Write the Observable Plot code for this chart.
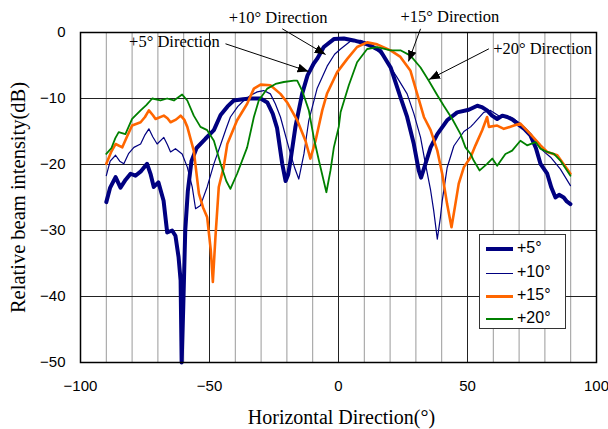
<!DOCTYPE html>
<html><head><meta charset="utf-8">
<script src="https://cdn.jsdelivr.net/npm/d3@7"></script>
<script src="https://cdn.jsdelivr.net/npm/@observablehq/plot@0.6"></script>
<style>
body{margin:0;background:#fff;}
#wrap{position:relative;width:608px;height:429px;overflow:hidden;}
#wrap svg{position:absolute;left:0;top:0;}
#legend{position:absolute;left:479px;top:234px;width:85px;height:93px;border:1px solid #333;background:#fff;font-family:"Liberation Sans",Arial,sans-serif;font-size:16px;color:#000;z-index:2;}
.sw{position:absolute;left:6px;width:27px;}
.lab{position:absolute;left:37px;line-height:20px;}
</style></head>
<body><div id="wrap"><div id="legend"></div></div>
<script>
// ---- axis ticks / grid ----
const xTicks = [-100, -50, 0, 50, 100];
const yTicks = [0, -10, -20, -30, -40, -50];
const xMinorGrid = [-90, -80, -70, -60, -40, -30, -20, -10, 10, 20, 30, 40, 60, 70, 80, 90];
const xMajorGrid = [-50, 0, 50];
const yGrid = [-10, -20, -30, -40];

// ---- series ----
const seriesNames = ["+5°", "+10°", "+15°", "+20°"];
const seriesColors = ["#000080", "#000080", "#FF6600", "#008000"];

const s5 = [[-90,-25.7],[-88.5,-23.5],[-86.4,-21.9],[-84.5,-23.5],[-82.5,-22.3],[-80.6,-21.4],[-78.7,-21.7],[-76.5,-21],[-74.2,-19.9],[-72.8,-21.5],[-71.6,-23.4],[-69.8,-22.7],[-67.8,-25.5],[-66.4,-30.3],[-64.5,-30],[-63.2,-30.8],[-62,-34],[-61.2,-37.6],[-60.8,-50],[-60.2,-42],[-59.4,-30],[-58.4,-24],[-57,-19.5],[-55,-17.5],[-51.6,-16.1],[-48.3,-14.8],[-45.7,-12.5],[-43,-11.2],[-40.6,-10.3],[-37,-10.1],[-34.1,-10],[-30.2,-10],[-27.6,-10.6],[-25.5,-12.3],[-23.8,-14.5],[-21.8,-19.9],[-20.5,-22.5],[-19.5,-21.5],[-18.6,-19.4],[-16.7,-14.3],[-14.1,-9.3],[-12,-6.5],[-9.6,-4.7],[-8.3,-4.0],[-5.7,-2.2],[-1.8,-1.0],[2.1,-0.9],[5.9,-1.2],[9.8,-1.6],[12.4,-2],[16.3,-2.8],[20.2,-5.3],[24,-9.8],[26.6,-12.8],[29.2,-16.9],[31.1,-20.9],[32,-22],[33.7,-19.9],[35.7,-17.4],[38.3,-15.4],[42.1,-13.3],[46,-12.1],[50.5,-11.7],[53.8,-11.1],[55.5,-11.3],[57.6,-11.8],[59.5,-12.6],[61.5,-13.1],[63.5,-12.6],[65.4,-12.8],[67.5,-13.2],[69.3,-13.8],[72,-14.6],[74.4,-15.6],[76.5,-17.5],[78.3,-19.9],[80.9,-21.4],[82.5,-23.5],[84.1,-25],[85.5,-24.6],[87.3,-25],[88.5,-25.6],[89.9,-26]];

const s10 = [[-90,-21.7],[-88.5,-19.5],[-86.4,-18.6],[-84.8,-19.5],[-83.2,-19.9],[-81.3,-18.3],[-79.3,-17.4],[-76.7,-16.9],[-75,-15.5],[-73.5,-14.6],[-72,-15.8],[-70.3,-16.9],[-67.7,-15.9],[-66.3,-17],[-65.1,-18.1],[-63.2,-17.6],[-60.6,-18.4],[-58.6,-20.4],[-56.7,-23.4],[-55.4,-26.7],[-53.5,-26.2],[-50.9,-23.4],[-48.3,-19.9],[-45.7,-17],[-43.5,-14.5],[-41.9,-12.8],[-39,-11.2],[-36.7,-10.3],[-34,-9.5],[-31.5,-9],[-29,-8.8],[-26.4,-9.3],[-24.5,-10.8],[-22.5,-12.8],[-19.3,-17.4],[-17,-20.5],[-15.4,-22.2],[-13.4,-18.4],[-11.5,-13.3],[-8.3,-8.5],[-4.4,-5.1],[-1.5,-3.3],[0.8,-2.5],[4.7,-1.3],[8.5,-1.2],[12.4,-1.7],[17.6,-3.7],[22.7,-6.8],[26.6,-9.3],[29.2,-12.3],[31.8,-15.9],[33.7,-19.9],[35.7,-23.9],[36.9,-27],[38.3,-31.3],[39.5,-28],[40.2,-25.5],[42.1,-20.5],[44.7,-17.2],[48.6,-15],[51.2,-14.3],[52.4,-13.8],[56.3,-12.1],[58.9,-11.8],[62.8,-12.8],[66.7,-12.8],[70.5,-13.8],[74.4,-15.4],[78.3,-17.6],[82.2,-18.9],[86,-20.7],[89.9,-23.2]];

const s15 = [[-90,-19.9],[-88,-18],[-86.4,-16.9],[-83.8,-17.4],[-82,-15.8],[-80,-14.1],[-76.7,-13.6],[-75,-12.8],[-73.5,-11.8],[-72,-12.5],[-70.9,-13.1],[-67.7,-12.6],[-66.3,-13],[-65.1,-13.6],[-63,-13.2],[-61.2,-12.6],[-59.8,-13.2],[-58.6,-14.3],[-56.1,-17.9],[-54.1,-24.4],[-52.5,-26.5],[-50.9,-28],[-49.5,-33],[-48.7,-37.8],[-47.7,-31],[-46.4,-23.4],[-44.5,-20.4],[-43.1,-16.9],[-39.3,-13.3],[-35.4,-10.8],[-32.8,-8.5],[-30.2,-7.9],[-26.4,-8],[-22.5,-9.3],[-19.9,-10.6],[-16,-13.3],[-12.8,-16.4],[-10.9,-19.1],[-8.9,-16.4],[-6.3,-11.8],[-4.4,-9.2],[-0.5,-6],[3.4,-4],[7.2,-2.2],[11.1,-1.5],[15,-1.8],[20.2,-2.7],[24,-3.7],[27.9,-5.8],[30.5,-9.3],[33.1,-12.8],[35.7,-14.8],[38.3,-17.9],[40.2,-21.4],[42.1,-26],[43.8,-29.5],[45.3,-26],[46.6,-22.9],[48.6,-20.4],[51.2,-18.9],[53.1,-17.1],[55.7,-14.8],[57.6,-12.8],[58.3,-14.3],[61.5,-14.1],[64.1,-14.6],[68,-14.1],[70.5,-13.8],[74.4,-15.4],[78.3,-17.1],[80.9,-18.1],[84.8,-18.6],[88.6,-20.7],[89.9,-21.4]];

const s20 = [[-90,-18.4],[-88,-17.5],[-86.5,-16],[-85.2,-15.1],[-82.6,-15.4],[-80,-13.1],[-76.7,-11.8],[-74.5,-11],[-72.2,-10],[-69,-10.3],[-66.4,-10],[-63.8,-10.3],[-60.6,-9.4],[-58.6,-10.3],[-56.1,-12.6],[-53.5,-14.3],[-50.9,-14.8],[-48.3,-16.4],[-45.7,-19.9],[-43.5,-22.5],[-41.9,-23.7],[-39.3,-21.4],[-35.4,-17.4],[-32.8,-12.8],[-30.9,-10.3],[-27.6,-8.5],[-24.4,-7.8],[-21.2,-7.5],[-17.3,-7.3],[-16,-7.3],[-14.1,-8.8],[-11.5,-11.8],[-9.6,-15.9],[-7.6,-19.4],[-4.7,-24.2],[-3.1,-20.9],[-1.8,-17.4],[0.1,-14.3],[0.8,-12.1],[4,-8],[7.2,-4.5],[11.1,-2.5],[15,-2.2],[20.2,-2.7],[24,-2.7],[27.9,-3.5],[31.8,-5.3],[35,-7.3],[38.3,-9.5],[40.8,-11.1],[44.1,-13.1],[47.3,-15.4],[49.2,-17.4],[51.2,-18.4],[52.4,-19.4],[54.7,-20.9],[57.6,-19.9],[59.6,-19.1],[61.5,-20.2],[64.7,-18.4],[67.3,-17.9],[70.5,-16.4],[73.1,-17.1],[76.4,-16.6],[78.3,-17.6],[80.9,-18.1],[83.5,-18.4],[86,-19.4],[89.9,-21.7]];

// ---- annotations (text + arrow, in data units) ----
const annLabels = ["+10° Direction", "+5° Direction", "+15° Direction", "+20° Direction"];
const annText = [[-23.4, 2.27], [-63.6, -1.47], [43.2, 2.32], [79.1, -2.47]];
const annFrom = [[-21.8, 0.56], [-43.8, -1.71], [31.8, 0.56], [58.3, -2.47]];
const annTo = [[-5.0, -3.33], [-11.6, -5.9], [27.1, -4.39], [35.1, -7.12]];

const xTitle = "Horizontal Direction(°)";
const yTitle = "Relative beam intensity(dB)";

// ---- build ----
const series = [s5, s10, s15, s20];
const widths = [4, 1.2, 2.6, 1.8];
const legendWidths = [4, 1, 3, 1.3];
const serif = "'Liberation Serif','Times New Roman',serif";
const sans = "'Liberation Sans',Arial,sans-serif";

const ann = annLabels.map((t, i) => ({
  label: t, tx: annText[i][0], ty: annText[i][1],
  x1: annFrom[i][0], y1: annFrom[i][1], x2: annTo[i][0], y2: annTo[i][1]
}));

const chart = Plot.plot({
  width: 608, height: 429,
  marginLeft: 80, marginRight: 12, marginTop: 32, marginBottom: 67,
  style: {fontFamily: sans, fontSize: "15px", background: "white", overflow: "visible"},
  x: {domain: [-100, 100]},
  y: {domain: [-50, 0]},
  marks: [
    Plot.ruleX(xMinorGrid, {stroke: "#9a9a9a", strokeWidth: 1}),
    Plot.ruleX(xMajorGrid, {stroke: "#222", strokeWidth: 1}),
    Plot.ruleY(yGrid, {stroke: "#222", strokeWidth: 1}),
    ...series.map((s, i) => Plot.line(s, {
      x: d => d[0], y: d => d[1],
      stroke: seriesColors[i], strokeWidth: widths[i],
      strokeLinejoin: "round", strokeLinecap: "round"
    })),
    Plot.frame({stroke: "#000", strokeWidth: 1.5}),
    Plot.axisX(xTicks, {tickSize: 0, tickPadding: 18, fontSize: 15, fontFamily: sans, label: null}),
    Plot.axisY(yTicks, {tickSize: 0, tickPadding: 15, fontSize: 15, fontFamily: sans, label: null}),
    Plot.text([xTitle], {frameAnchor: "bottom", dx: 3, dy: 55, lineAnchor: "middle", textAnchor: "middle", fontSize: 20, fontFamily: serif, fill: "#000"}),
    Plot.text([yTitle], {frameAnchor: "left", dx: -62, rotate: -90, lineAnchor: "middle", textAnchor: "middle", fontSize: 20.5, fontFamily: serif, fill: "#000"}),
    Plot.link(ann, {x1: "x1", y1: "y1", x2: "x2", y2: "y2", stroke: "#000", strokeWidth: 1, markerEnd: "arrow"}),
    Plot.text(ann, {x: "tx", y: "ty", text: "label", fontSize: 16.5, fontFamily: serif, fill: "#000", lineAnchor: "middle"})
  ]
});

chart.querySelectorAll("marker").forEach(m => {
  m.setAttribute("viewBox", "-10 -5 10 10");
  m.setAttribute("markerWidth", 11);
  m.setAttribute("markerHeight", 11);
  m.setAttribute("fill", "#000");
  m.setAttribute("stroke", "none");
  const p = m.querySelector("path");
  if (p) p.setAttribute("d", "M-10,-4L0,0L-10,4Z");
});

const wrap = document.getElementById("wrap");
wrap.insertBefore(chart, wrap.firstChild);

// legend
const legend = document.getElementById("legend");
const rowCenters = [14, 38, 61, 84];
seriesNames.forEach((name, i) => {
  const sw = document.createElement("div");
  sw.className = "sw";
  sw.style.top = (rowCenters[i] - legendWidths[i] / 2) + "px";
  sw.style.height = legendWidths[i] + "px";
  sw.style.background = seriesColors[i];
  legend.appendChild(sw);
  const lab = document.createElement("div");
  lab.className = "lab";
  lab.style.top = (rowCenters[i] - 11) + "px";
  lab.textContent = name;
  legend.appendChild(lab);
});
</script></body></html>
